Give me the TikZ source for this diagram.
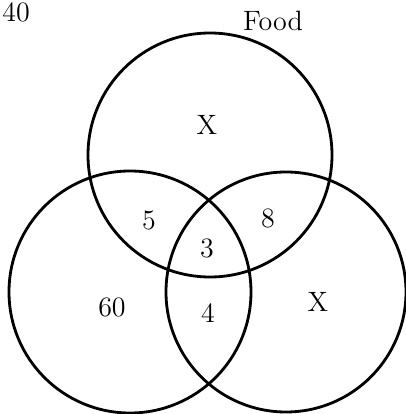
\documentclass[tikz,border=0pt]{standalone}
\usepackage{tikz}

\begin{document}
\begin{tikzpicture}[x=.5pt,y=.5pt,line width=1.4pt,
  lbl/.style={font=\fontsize{14}{16}\selectfont,inner sep=0pt}]
  \useasboundingbox (0,0) rectangle (406,414);
  \coordinate (top) at (210,259); \coordinate (lft) at (130,122); \coordinate (rgt) at (286,122);
  \draw (top) circle (122); \draw (lft) circle (121); \draw (rgt) circle (120);
  \node[lbl] (food) at (273,393) {Food};
  \node[lbl,anchor=north west] (forty) at (1,413) {40};
  \node[lbl] (xtop) at (207,289) {X}; \node[lbl] (xrgt) at (318,112) {X};
  \node[lbl] (tl) at (149,194) {5}; \node[lbl] (tr) at (268,196) {8};
  \node[lbl] (mid) at (207,166) {3}; \node[lbl] (lr) at (208,101) {4};
  \node[lbl] (only) at (112,107) {60};
\end{tikzpicture}
\end{document}
